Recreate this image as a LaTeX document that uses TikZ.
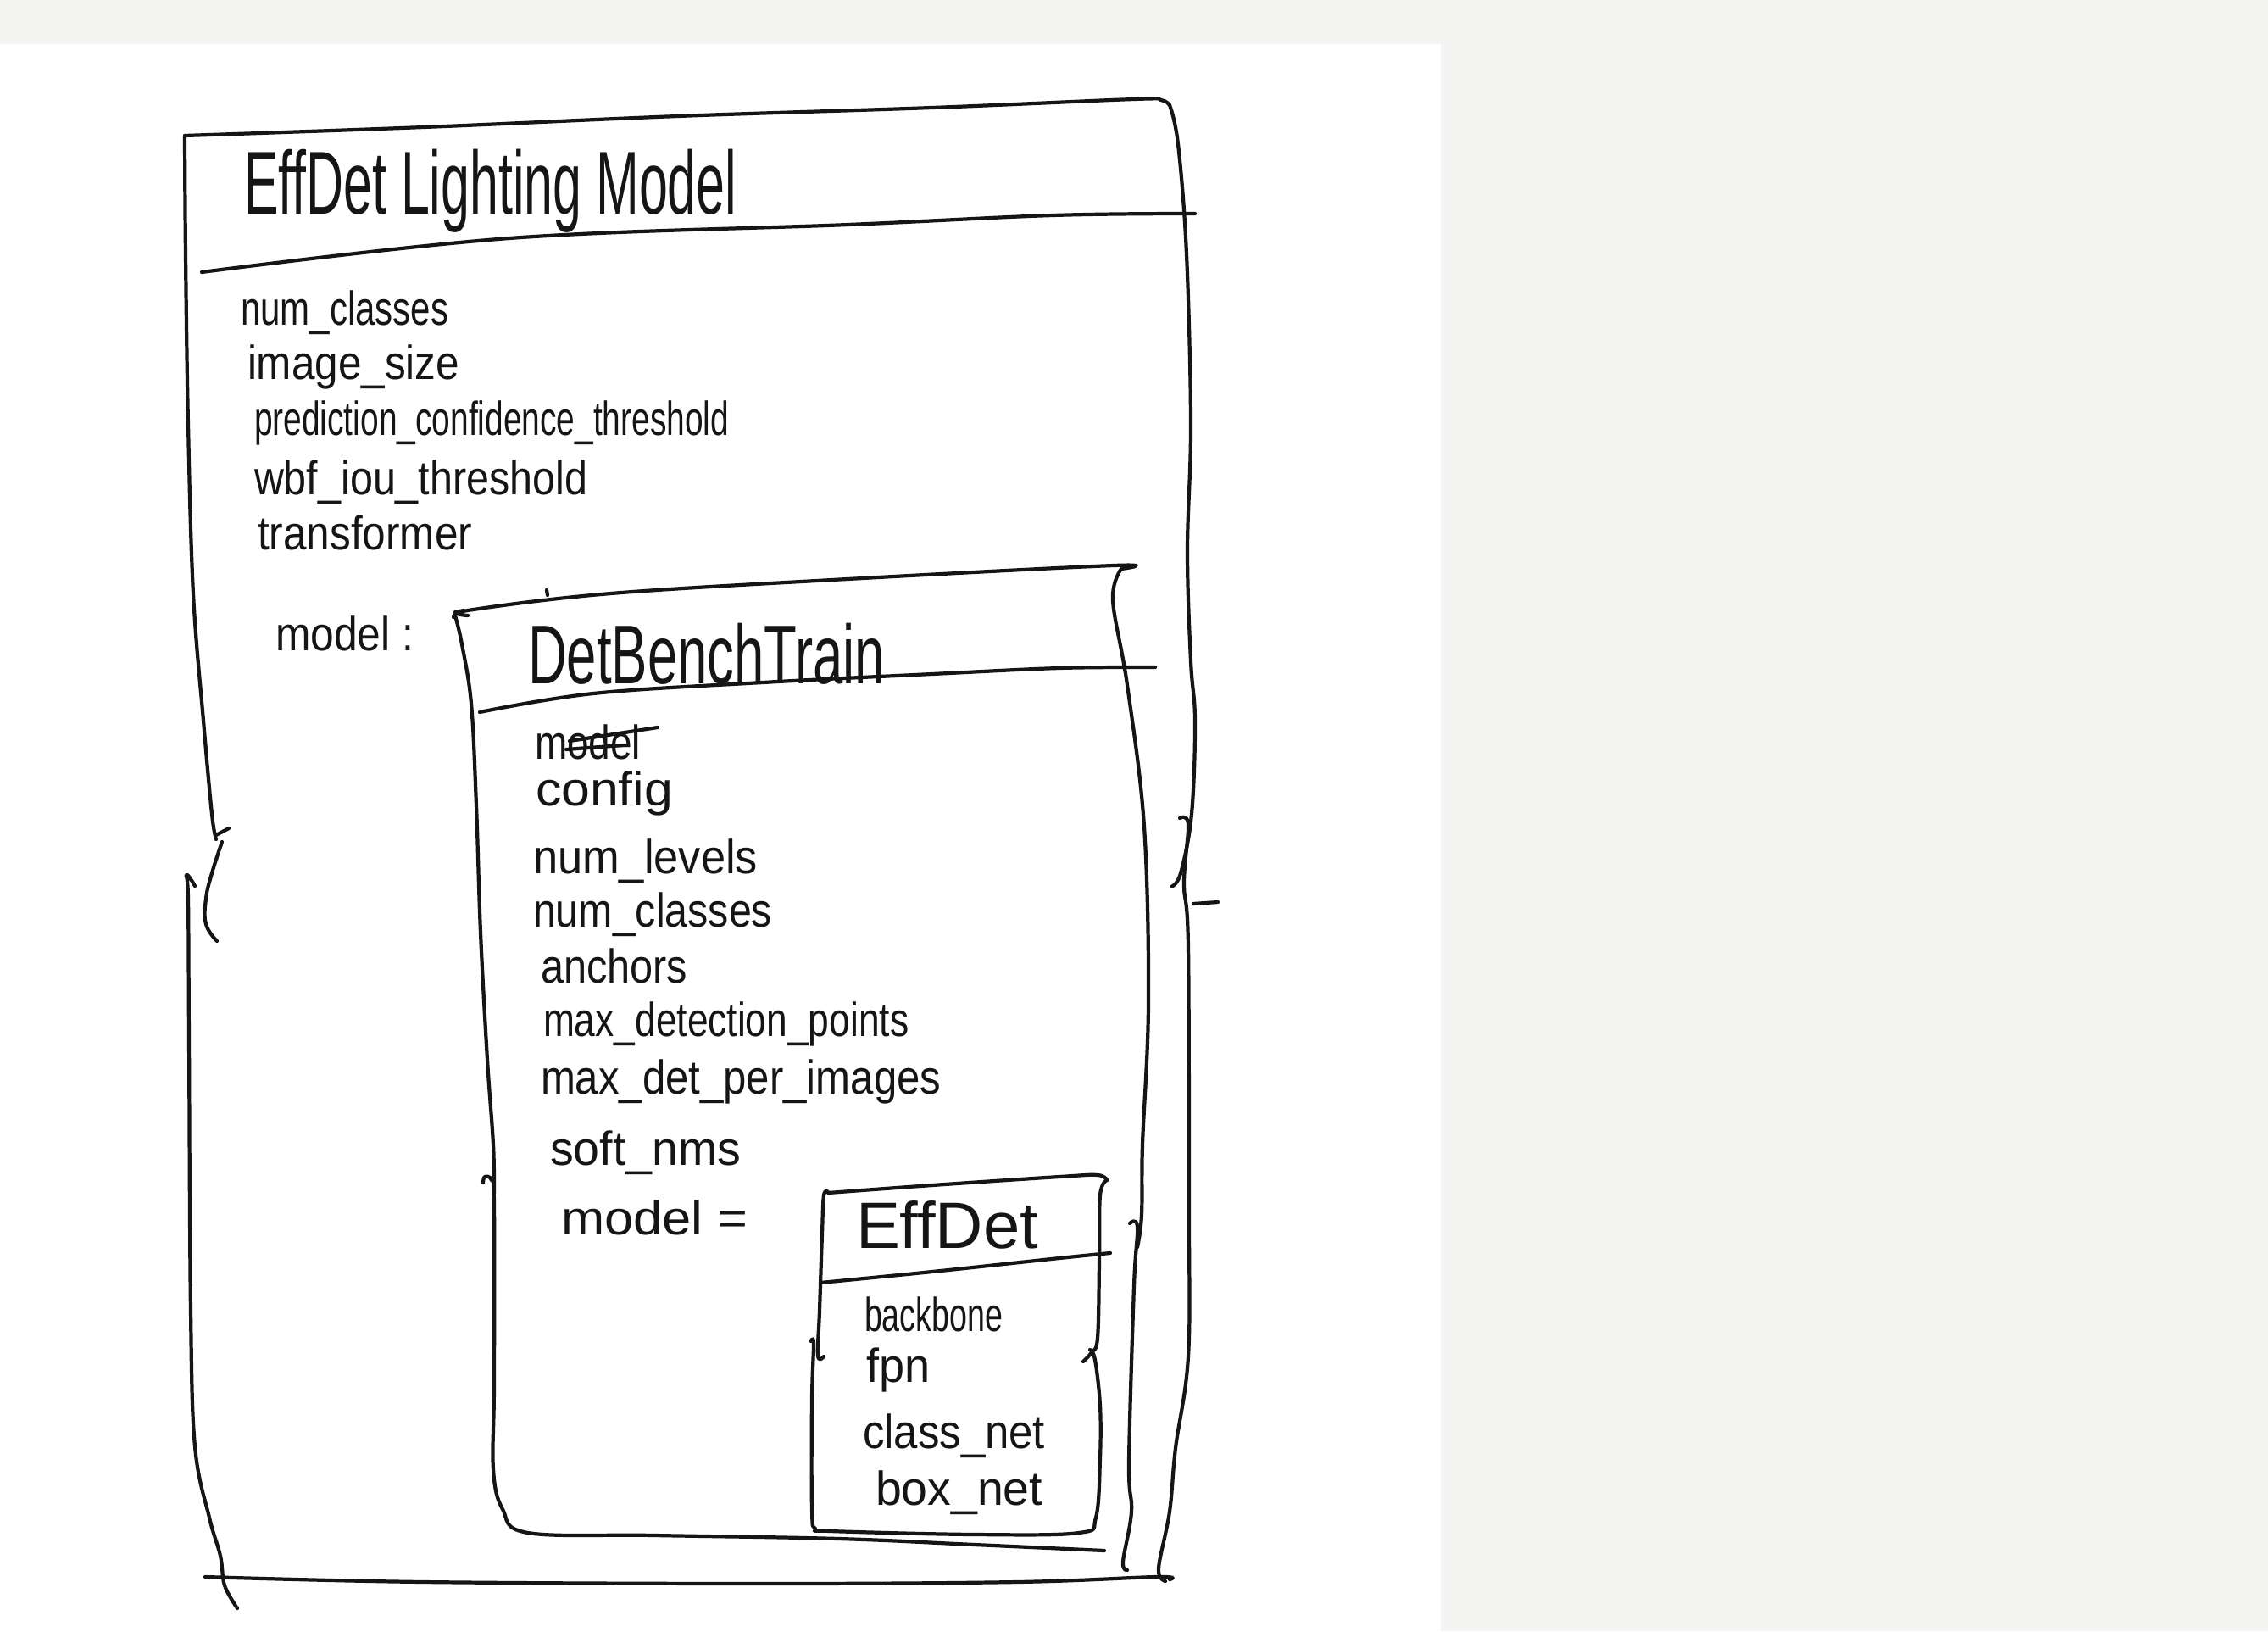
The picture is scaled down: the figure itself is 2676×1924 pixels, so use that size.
\documentclass[tikz,border=0pt]{standalone}
\usepackage{fontspec}
\usepackage{graphicx}
\setmainfont{Liberation Sans}
\newcommand{\hwt}[2]{\resizebox{#1}{\height}{#2}}
\definecolor{ink}{HTML}{151515}
\definecolor{paper}{HTML}{F4F4F2}
\begin{document}
\begin{tikzpicture}[x=0.01cm,y=-0.01cm,
  pen/.style={draw=ink, line width=1.2pt, line cap=round, line join=round},
  hw/.style={anchor=base west, inner sep=0pt, outer sep=0pt, text=ink, font=\fontsize{16}{18}\selectfont},
  ttl/.style={hw, font=\fontsize{30}{34}\selectfont},
  ttlm/.style={hw, font=\fontsize{28}{32}\selectfont},
  ttls/.style={hw, font=\fontsize{22}{26}\selectfont}]
\useasboundingbox (0,0) rectangle (2676,1924);
\fill[paper] (0,0) rectangle (2676,1924);
\fill[white] (0,52) rectangle (1700,1924);

% ---------- outer box: EffDet Lighting Model ----------
\draw[pen] plot[smooth, tension=0.6] coordinates {(218,160) (500,150) (800,137) (1100,127) (1338,117) (1370,118) (1380,124)};
\draw[pen] plot[smooth, tension=0.6] coordinates {(1380,124) (1390,170) (1400,300) (1405,500) (1401,650) (1405,780) (1410,850) (1406,960) (1393,1030) (1382,1046)};
\draw[pen] plot[smooth, tension=0.6] coordinates {(1392,965) (1402,972) (1397,1042) (1402,1117) (1403,1433) (1402,1600) (1387,1708) (1380,1783) (1367,1850) (1375,1865)};
\draw[pen] (1408,1066) -- (1437,1064);
\draw[pen] plot[smooth, tension=0.6] coordinates {(242,1860) (500,1866) (900,1868) (1200,1866) (1365,1860) (1380,1863)};
\draw[pen] plot[smooth, tension=0.6] coordinates {(218,160) (219,300) (222,500) (228,700) (240,850) (250,960) (255,990)};
\draw[pen] (255,985) -- (270,977);
\draw[pen] plot[smooth, tension=0.7] coordinates {(262,993) (250,1030) (243,1060) (243,1090) (256,1110)};
\draw[pen] plot[smooth, tension=0.6] coordinates {(230,1045) (220,1032) (222,1060) (223,1223) (225,1545) (230,1706) (247,1790) (260,1835) (265,1870) (280,1897)};
\draw[pen] plot[smooth, tension=0.6] coordinates {(238,321) (601,281) (1001,265) (1242,254) (1410,252)};

\node[ttl] (t0) at (288,252) {\hwt{5.81cm}{EffDet Lighting Model}};
\node[hw] (a1) at (284,383) {\hwt{2.45cm}{num\_classes}};
\node[hw] (a2) at (292,447) {\hwt{2.50cm}{image\_size}};
\node[hw] (a3) at (300,513) {\hwt{5.60cm}{prediction\_confidence\_threshold}};
\node[hw] (a4) at (300,583) {\hwt{3.93cm}{wbf\_iou\_threshold}};
\node[hw] (a5) at (304,648) {\hwt{2.53cm}{transformer}};
\node[hw] (a6) at (325,767) {\hwt{1.63cm}{model :}};

% ---------- middle box: DetBenchTrain ----------
\draw[pen] (535,728) -- (537,722) -- (547,720);
\draw[pen] plot[smooth, tension=0.6] coordinates {(552,726) (552,720) (721,700) (1000,683) (1314,667) (1323,671)};
\draw[pen] (645,696) -- (646,702);
\draw[pen] plot[smooth, tension=0.6] coordinates {(537,726) (545,760) (556,830) (562,950) (567,1100) (575,1250) (582,1350) (583,1407)};
\draw[pen] plot[smooth, tension=0.6] coordinates {(570,1395) (572,1388) (580,1392) (583,1420) (583,1633) (582,1733) (593,1780) (623,1808) (773,1811) (990,1815) (1150,1822) (1303,1829)};
\draw[pen] plot[smooth, tension=0.6] coordinates {(1323,671) (1313,708) (1330,808) (1350,975) (1355,1183) (1348,1350) (1347,1433) (1342,1471)};
\draw[pen] plot[smooth, tension=0.6] coordinates {(1333,1443) (1342,1447) (1338,1517) (1332,1725) (1335,1783) (1325,1842) (1330,1852)};
\draw[pen] plot[smooth, tension=0.6] coordinates {(566,840) (700,818) (900,805) (1100,795) (1250,788) (1363,787)};

\node[ttlm] (t1) at (623,806) {\hwt{4.21cm}{DetBenchTrain}};
\node[hw] (b0) at (631,895) {\hwt{1.25cm}{model}};
\draw[pen] (672,874) -- (776,858);
\draw[pen] (668,884) -- (735,879);
\node[hw] (b1) at (632,950) {\hwt{1.62cm}{config}};
\node[hw] (b2) at (629,1030) {\hwt{2.65cm}{num\_levels}};
\node[hw] (b3) at (629,1093) {\hwt{2.82cm}{num\_classes}};
\node[hw] (b4) at (638,1159) {\hwt{1.73cm}{anchors}};
\node[hw] (b5) at (641,1222) {\hwt{4.31cm}{max\_detection\_points}};
\node[hw] (b6) at (638,1290) {\hwt{4.72cm}{max\_det\_per\_images}};
\node[hw] (b7) at (649,1374) {\hwt{2.25cm}{soft\_nms}};
\node[hw] (b8) at (662,1456) {\hwt{2.20cm}{model =}};

% ---------- inner box: EffDet ----------
\draw[pen] plot[smooth, tension=0.6] coordinates {(977,1407) (1100,1398) (1250,1388) (1295,1386) (1306,1392)};
\draw[pen] plot[smooth, tension=0.6] coordinates {(1306,1392) (1298,1410) (1297,1490) (1295,1578) (1288,1595) (1278,1606)};
\draw[pen] plot[smooth, tension=0.6] coordinates {(1286,1592) (1292,1604) (1298,1658) (1298,1720) (1293,1790) (1273,1808) (1150,1810) (980,1806) (962,1803) (958,1780) (958,1650) (960,1585) (957,1582)};
\draw[pen] plot[smooth, tension=0.6] coordinates {(977,1406) (972,1410) (970,1455) (967,1546) (965,1599) (972,1600)};
\draw[pen] plot[smooth, tension=0.6] coordinates {(968,1513) (1100,1500) (1250,1484) (1310,1478)};

\node[ttls] (t2) at (1010,1472) {\hwt{2.15cm}{EffDet}};
\node[hw] (c1) at (1020,1570) {\hwt{1.63cm}{backbone}};
\node[hw] (c2) at (1022,1630) {\hwt{0.75cm}{fpn}};
\node[hw] (c3) at (1018,1708) {\hwt{2.15cm}{class\_net}};
\node[hw] (c4) at (1033,1775) {\hwt{1.97cm}{box\_net}};
\end{tikzpicture}
\end{document}
